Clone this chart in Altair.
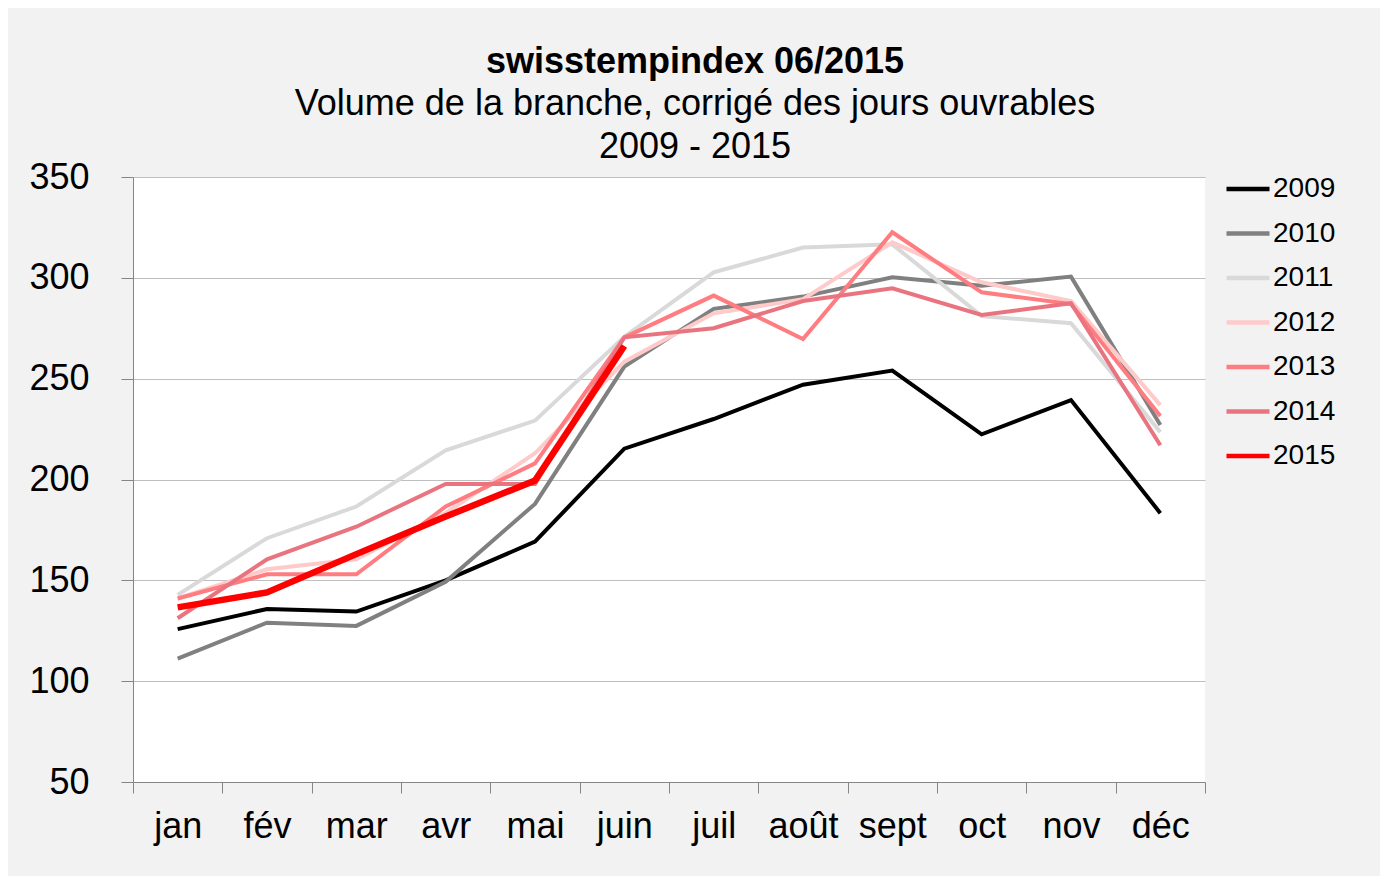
import json
import altair as alt
import pandas as pd

months = ["jan", "fév", "mar", "avr", "mai", "juin", "juil", "août", "sept", "oct", "nov", "déc"]
years = ["2009", "2010", "2011", "2012", "2013", "2014", "2015"]
v2009 = [125.8, 135.8, 134.5, 150.0, 169.2, 215.3, 230.0, 247.0, 254.0, 222.4, 239.4, 183.3]
v2010 = [111.2, 129.0, 127.4, 149.3, 187.9, 256.0, 284.6, 290.7, 300.3, 296.1, 300.6, 227.0]
v2011 = [142.8, 170.9, 186.6, 214.5, 229.2, 270.8, 302.7, 315.0, 316.6, 281.0, 277.5, 223.5]
v2012 = [141.0, 155.5, 160.4, 183.4, 213.0, 258.4, 282.4, 289.4, 317.6, 297.8, 288.5, 236.9]
v2013 = [141.0, 153.0, 153.0, 186.6, 208.0, 270.5, 291.2, 269.7, 322.6, 292.8, 287.0, 231.5]
v2014 = [131.2, 160.4, 176.6, 197.8, 197.8, 270.5, 275.0, 288.5, 294.8, 281.6, 287.4, 217.0]
v2015 = [136.6, 144.0, 163.0, 181.6, 199.5, 266.2]
series = [v2009, v2010, v2011, v2012, v2013, v2014, v2015]
colors = ["#000000", "#808080", "#D9D9D9", "#FFCACA", "#FF7C80", "#E9747F", "#FF0000"]
widths = [4, 4, 4, 4, 4, 4, 6.5]

rows = []
for yr, vals, w in zip(years, series, widths):
    for i, v in enumerate(vals):
        rows.append({"year": yr, "month": months[i], "pos": i + 0.5, "value": v,
                     "order": i, "w": w})
df = pd.DataFrame(rows)

FONT = "Liberation Sans"
label_expr = "datum.value < 12 ? " + json.dumps(months) + "[datum.value] : ''"

legend = alt.Legend(
    title=None, orient="none", legendX=1091, legendY=-12,
    symbolType="stroke", symbolSize=1850, symbolStrokeWidth=4.5, labelFontSize=28,
    labelFont=FONT, labelColor="#000000", labelOffset=1, rowPadding=6.5, padding=0,
)

chart = alt.Chart(df).mark_line(strokeJoin="miter").encode(
    x=alt.X("pos:Q", scale=alt.Scale(domain=[0, 12], nice=False, zero=False),
            axis=alt.Axis(title=None, values=list(range(13)), labelExpr=label_expr,
                          labelOffset=44.67, labelOverlap=False, labelFlush=False,
                          labelBound=False, grid=False, tickSize=11, labelPadding=16,
                          labelFontSize=36, labelFont=FONT, labelColor="#000000",
                          tickColor="#868686", domainColor="#868686")),
    y=alt.Y("value:Q", scale=alt.Scale(domain=[50, 350], nice=False, zero=False),
            axis=alt.Axis(title=None, values=[50, 100, 150, 200, 250, 300, 350],
                          grid=True, gridColor="#BFBFBF", tickSize=12, labelPadding=32,
                          labelFontSize=36, labelFont=FONT, labelColor="#000000",
                          tickColor="#868686", domainColor="#868686")),
    color=alt.Color("year:N", scale=alt.Scale(domain=years, range=colors), legend=legend),
    strokeWidth=alt.StrokeWidth("w:Q", scale=None, legend=None),
    order="order:Q",
).properties(
    width=1072, height=605,
    autosize=alt.AutoSizeParams(type="none"),
    padding={"left": 125, "top": 169, "right": 175, "bottom": 94},
    background="#F2F2F2",
    title=alt.TitleParams(
        text="swisstempindex 06/2015",
        subtitle=["Volume de la branche, corrigé des jours ouvrables", "2009 - 2015"],
        font=FONT, fontSize=36, fontWeight="bold", color="#000000",
        subtitleFont=FONT, subtitleFontSize=36, subtitleColor="#000000",
        subtitleLineHeight=43, subtitlePadding=6,
        anchor="middle", frame="group", dx=26, offset=-7,
    ),
).configure_view(stroke=None, fill="white")

chart.save("out.html", embed_options={"renderer": "svg", "actions": False})
